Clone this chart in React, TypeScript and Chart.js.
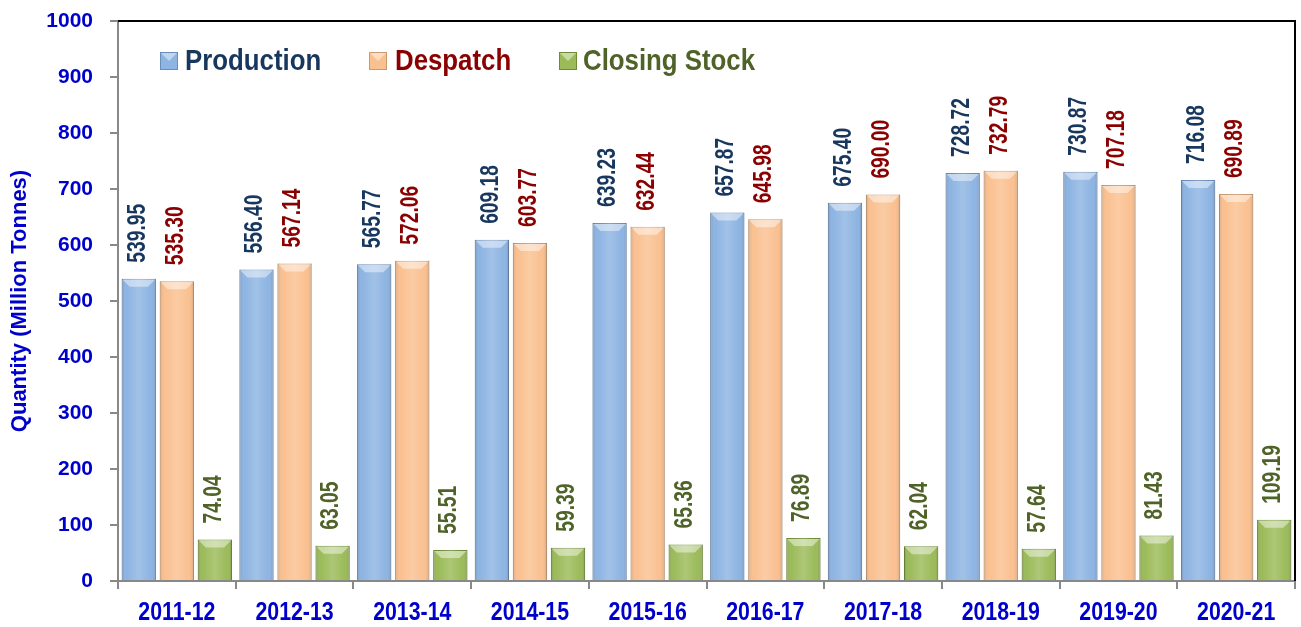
import React, { useEffect, useRef } from "react";
import { Chart, registerables } from "chart.js";

Chart.register(...registerables);

const categories = ["2011-12", "2012-13", "2013-14", "2014-15", "2015-16", "2016-17", "2017-18", "2018-19", "2019-20", "2020-21"];
const production = [539.95, 556.4, 565.77, 609.18, 639.23, 657.87, 675.4, 728.72, 730.87, 716.08];
const despatch = [535.3, 567.14, 572.06, 603.77, 632.44, 645.98, 690.0, 732.79, 707.18, 690.89];
const closingStock = [74.04, 63.05, 55.51, 59.39, 65.36, 76.89, 62.04, 57.64, 81.43, 109.19];
const seriesNames = ["Production", "Despatch", "Closing Stock"];
const yTitle = "Quantity (Million Tonnes)";

const FONT = "'Liberation Sans', Arial, sans-serif";
const AXIS_BLUE = "#0000CC";
const fills = ["#8DB4E2", "#FAC090", "#9BBB59"];
const borders = ["#6A8CB8", "#C99A70", "#6E8C34"];
const textColors = ["#17375E", "#8B0000", "#4F6228"];

function drawText(ctx: any, text: string, x: number, y: number, size: number, color: string, align: string, scaleX: number, rotate = 0) {
  ctx.save();
  ctx.translate(x, y);
  if (rotate) ctx.rotate(rotate);
  ctx.scale(scaleX, 1);
  ctx.font = `bold ${size}px ${FONT}`;
  ctx.fillStyle = color;
  ctx.textAlign = align;
  ctx.textBaseline = "middle";
  ctx.fillText(text, 0, 0);
  ctx.restore();
}

const barStylePlugin = {
  id: "barStyle",
  afterDatasetsDraw(chart: any) {
    const ctx = chart.ctx;
    ctx.save();
    chart.data.datasets.forEach((ds: any, di: number) => {
      const meta = chart.getDatasetMeta(di);
      meta.data.forEach((bar: any, i: number) => {
        const { x, y, base, width } = bar.getProps(["x", "y", "base", "width"], true);
        const l = x - width / 2;
        const r = x + width / 2;
        const h = base - y;
        const g = ctx.createLinearGradient(l, 0, r, 0);
        g.addColorStop(0, "rgba(0,0,0,0.14)");
        g.addColorStop(0.15, "rgba(255,255,255,0.0)");
        g.addColorStop(0.5, "rgba(255,255,255,0.18)");
        g.addColorStop(0.85, "rgba(255,255,255,0.0)");
        g.addColorStop(1, "rgba(0,0,0,0.16)");
        ctx.fillStyle = g;
        ctx.fillRect(l, y, width, h);
        const b = Math.min(8, h / 2);
        ctx.beginPath();
        ctx.moveTo(l + 1, y + 1);
        ctx.lineTo(r - 1, y + 1);
        ctx.lineTo(r - b, y + b);
        ctx.lineTo(l + b, y + b);
        ctx.closePath();
        ctx.fillStyle = "rgba(255,255,255,0.45)";
        ctx.fill();
        const v = ds.data[i];
        drawText(ctx, v.toFixed(2), x - 1, y - 16, 25, textColors[di], "left", 0.77, -Math.PI / 2);
      });
    });
    ctx.restore();
  },
};

const frameLegendPlugin = {
  id: "frameLegend",
  afterDraw(chart: any) {
    const ctx = chart.ctx;
    const a = chart.chartArea;
    ctx.save();
    ctx.strokeStyle = "#000";
    ctx.lineWidth = 2;
    ctx.beginPath();
    ctx.moveTo(a.left, a.top);
    ctx.lineTo(a.right, a.top);
    ctx.lineTo(a.right, a.bottom);
    ctx.stroke();
    const xs = chart.scales.x;
    categories.forEach((c, i) => {
      drawText(ctx, c, xs.getPixelForTick(i), 613, 26, AXIS_BLUE, "center", 0.82);
    });
    drawText(ctx, yTitle, 20, (a.top + a.bottom) / 2, 22, AXIS_BLUE, "center", 1, -Math.PI / 2);
    const items = [
      { mx: 160, tx: 185 },
      { mx: 369, tx: 395 },
      { mx: 559, tx: 583 },
    ];
    items.forEach((it, i) => {
      const my = 52;
      const s = 18;
      ctx.fillStyle = fills[i];
      ctx.fillRect(it.mx, my, s, s);
      ctx.beginPath();
      ctx.moveTo(it.mx, my);
      ctx.lineTo(it.mx + s, my);
      ctx.lineTo(it.mx + s / 2, my + s / 2);
      ctx.closePath();
      ctx.fillStyle = "rgba(255,255,255,0.45)";
      ctx.fill();
      ctx.strokeStyle = borders[i];
      ctx.lineWidth = 1;
      ctx.strokeRect(it.mx + 0.5, my + 0.5, s - 1, s - 1);
      drawText(ctx, seriesNames[i], it.tx, 62, 30, textColors[i], "left", 0.86);
    });
    ctx.restore();
  },
};

export default function App() {
  const ref = useRef<HTMLCanvasElement>(null);
  useEffect(() => {
    if (!ref.current) return;
    const series = [production, despatch, closingStock];
    const chart = new Chart(ref.current, {
      type: "bar",
      data: {
        labels: categories,
        datasets: series.map((d, i) => ({
          label: seriesNames[i],
          data: d,
          backgroundColor: fills[i],
          borderColor: borders[i],
          borderWidth: 1,
          categoryPercentage: 0.97,
          barPercentage: 0.9,
        })),
      },
      options: {
        responsive: false,
        animation: false,
        devicePixelRatio: 1,
        layout: { padding: { top: 21, right: 6, left: 0, bottom: 0 } },
        plugins: { legend: { display: false }, tooltip: { enabled: false } },
        scales: {
          x: {
            grid: { offset: true, drawOnChartArea: false, tickLength: 8, color: "#888", lineWidth: 2 },
            border: { color: "#888", width: 2 },
            ticks: { display: false },
            afterFit: (s: any) => { s.height = 46; },
          },
          y: {
            min: 0,
            max: 1000,
            ticks: {
              stepSize: 100,
              color: AXIS_BLUE,
              font: { family: FONT, size: 21, weight: "bold" },
              padding: 17,
              callback: (v: any) => String(v),
            },
            grid: { drawOnChartArea: false, tickLength: 8, color: "#888", lineWidth: 2 },
            border: { color: "#888", width: 2 },
            afterFit: (s: any) => { s.width = 118; s.paddingTop = 0; s.paddingBottom = 0; },
          },
        },
      },
      plugins: [barStylePlugin, frameLegendPlugin],
    } as any);
    return () => chart.destroy();
  }, []);
  return (
    <div style={{ position: "absolute", left: 0, top: 0, width: 1301, height: 627, background: "#fff" }}>
      <canvas ref={ref} width={1301} height={627} />
    </div>
  );
}
